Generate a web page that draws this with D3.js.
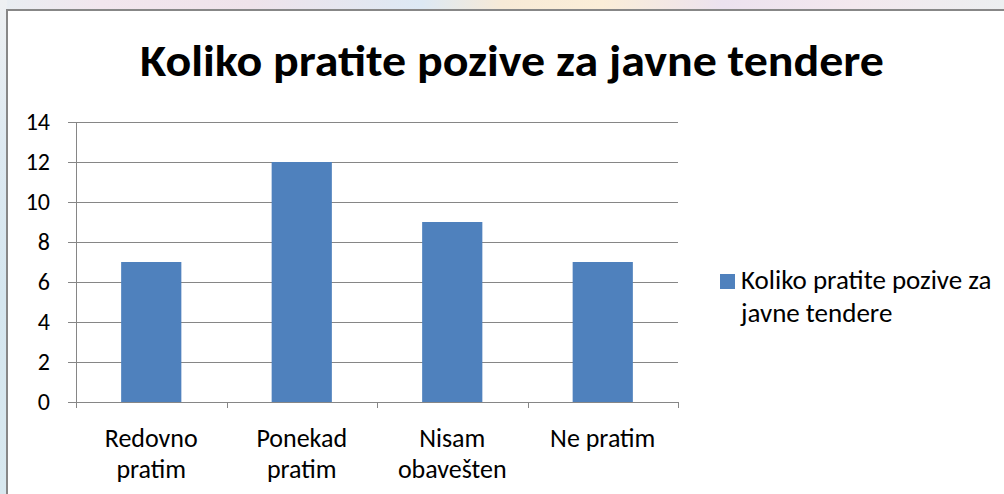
<!DOCTYPE html>
<html><head><meta charset="utf-8">
<script src="https://cdn.jsdelivr.net/npm/d3@7"></script>
<style>html,body{margin:0;padding:0;background:#fff;}svg{display:block;}</style>
</head><body>
<svg id="c" width="1004" height="494"></svg>
<script>
const categories = [["Redovno","pratim"],["Ponekad","pratim"],["Nisam","obavešten"],["Ne pratim"]];
const values = [7, 12, 9, 7];
const yTicks = [0, 2, 4, 6, 8, 10, 12, 14];
const title = "Koliko pratite pozive za javne tendere";
const legendLines = ["Koliko pratite pozive za", "javne tendere"];

const svg = d3.select("#c");
const FONT = "Carlito, Calibri, 'Open Sans', sans-serif";

// background (blurred picture behind the panel)
const defs = svg.append("defs");
const gTop = defs.append("linearGradient").attr("id","gt").attr("x1",0).attr("x2",1).attr("y1",0).attr("y2",0);
[["0","#e8eef2"],["0.1","#f2e6ee"],["0.25","#efe3ea"],["0.42","#dde9f4"],["0.5","#f7ead7"],["0.6","#fbeed8"],["0.72","#ece2ef"],["0.85","#f3e8ee"],["1","#eceff0"]]
  .forEach(([o,c])=>gTop.append("stop").attr("offset",o).attr("stop-color",c));
const gLeft = defs.append("linearGradient").attr("id","gl").attr("x1",0).attr("x2",0).attr("y1",0).attr("y2",1);
[["0","#eef0f2"],["0.3","#dde9f1"],["0.6","#d5e6ef"],["1","#d8e8ef"]]
  .forEach(([o,c])=>gLeft.append("stop").attr("offset",o).attr("stop-color",c));
svg.append("rect").attr("x",0).attr("y",0).attr("width",1004).attr("height",10).attr("fill","url(#gt)");
svg.append("rect").attr("x",0).attr("y",0).attr("width",7).attr("height",494).attr("fill","url(#gl)");
// panel
svg.append("rect").attr("x",7).attr("y",10).attr("width",997).attr("height",484).attr("fill","#fff");
svg.append("line").attr("x1",6).attr("x2",1004).attr("y1",10).attr("y2",10).attr("stroke","#878787").attr("stroke-width",2);
svg.append("line").attr("x1",7).attr("x2",7).attr("y1",9).attr("y2",494).attr("stroke","#878787").attr("stroke-width",2);

// title
svg.append("text").attr("x",512).attr("y",76).attr("text-anchor","middle")
  .attr("font-family",FONT).attr("font-weight","bold").attr("font-size",45)
  .attr("textLength",744).attr("lengthAdjust","spacingAndGlyphs")
  .attr("fill","#000").text(title);

// scales
const x = d3.scaleBand().domain(d3.range(values.length)).range([76, 678]).paddingInner(0.6).paddingOuter(0.3);
const y = d3.scaleLinear().domain([0, 14]).range([402, 122]);

const g = svg.append("g");
// gridlines
g.selectAll("line.grid").data(yTicks).join("line")
  .attr("x1",68).attr("x2",678).attr("y1",d=>y(d)+0.5).attr("y2",d=>y(d)+0.5)
  .attr("stroke","#868686").attr("stroke-width",1);
// y axis line
g.append("line").attr("x1",76.5).attr("x2",76.5).attr("y1",y(14)).attr("y2",y(0)+6).attr("stroke","#868686");
// x ticks at band boundaries
const bounds = d3.range(values.length+1).map(i => 76 + i*(678-76)/values.length);
g.selectAll("line.xt").data(bounds).join("line")
  .attr("x1",d=>Math.round(d)+0.5).attr("x2",d=>Math.round(d)+0.5).attr("y1",y(0)).attr("y2",y(0)+6)
  .attr("stroke","#868686");

// y tick labels
g.selectAll("text.yl").data(yTicks).join("text")
  .attr("x",50).attr("y",d=>y(d)+8).attr("text-anchor","end")
  .attr("font-family",FONT).attr("font-size",24).attr("fill","#000").text(d=>d);

// bars
g.selectAll("rect.bar").data(values).join("rect")
  .attr("x",(d,i)=>x(i)).attr("width",x.bandwidth())
  .attr("y",d=>y(d)).attr("height",d=>y(0)-y(d)).attr("fill","#4F81BD");

// category labels
categories.forEach((lines,i)=>{
  const cx = x(i) + x.bandwidth()/2;
  lines.forEach((t,j)=>{
    g.append("text").attr("x",cx).attr("y",447 + j*31).attr("text-anchor","middle")
      .attr("font-family",FONT).attr("font-size",26).attr("fill","#000").text(t);
  });
});

// legend
svg.append("rect").attr("x",720).attr("y",274).attr("width",15).attr("height",15).attr("fill","#4F81BD");
legendLines.forEach((t,j)=>{
  svg.append("text").attr("x",741).attr("y",289 + j*33)
    .attr("font-family",FONT).attr("font-size",27).attr("fill","#000").text(t);
});
</script>
</body></html>
